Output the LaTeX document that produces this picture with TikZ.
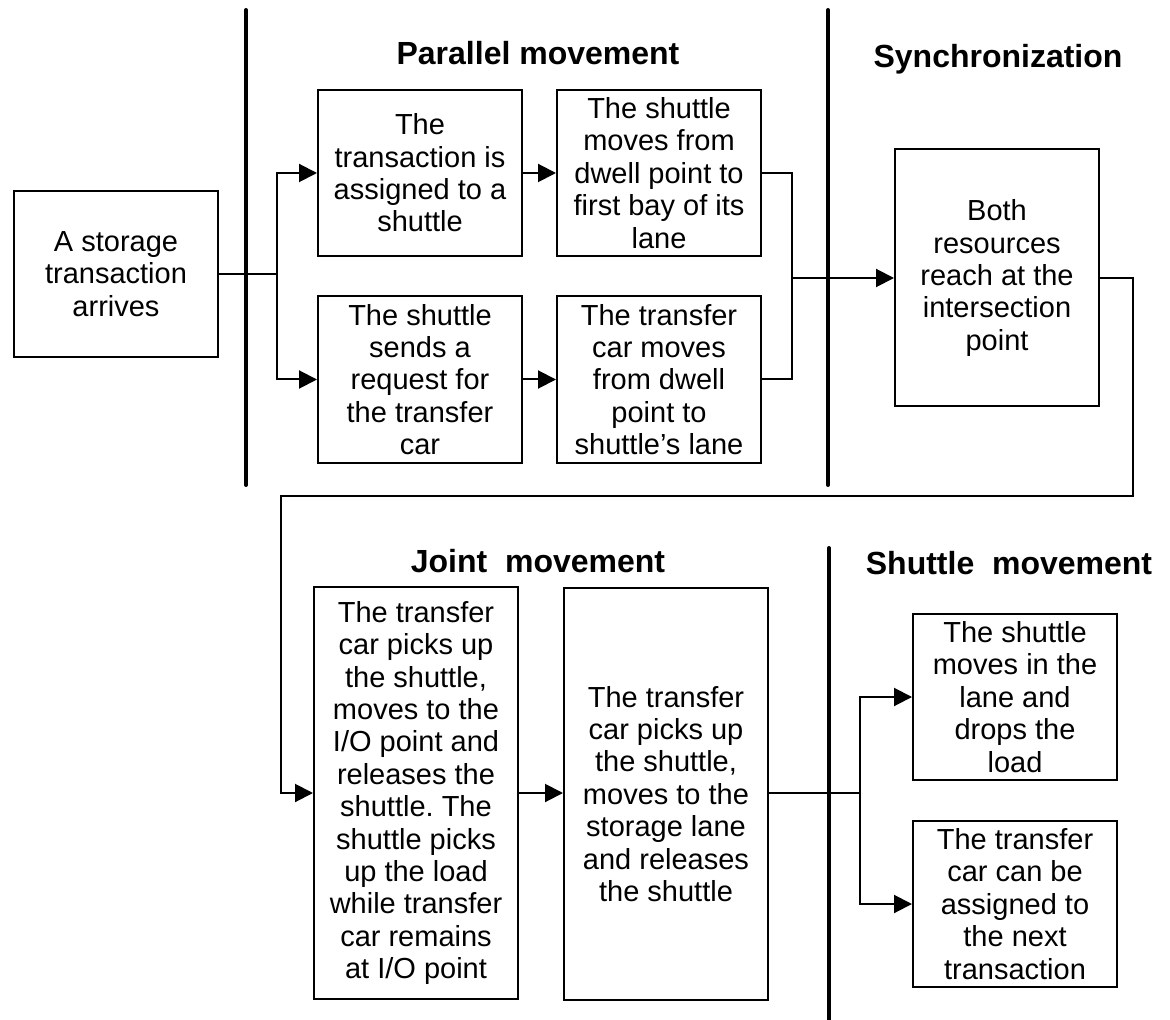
\documentclass[tikz,border=0pt]{standalone}
\usepackage{fontspec}
\setmainfont{Liberation Sans}
\usetikzlibrary{arrows.meta}
\frenchspacing
\begin{document}
\begin{tikzpicture}[x=0.5pt,y=-0.5pt,
  box/.style={draw, line width=1pt, rectangle, inner sep=0pt,
    minimum width=102pt, align=center,
    font=\fontsize{14.5}{16.2}\selectfont},
  title/.style={font=\fontsize{16}{18}\selectfont\bfseries},
  wire/.style={line width=1pt},
  arrow/.style={wire, -{Triangle[length=9pt,width=9pt]}},
  divider/.style={line width=2pt, line cap=round}]
\useasboundingbox (0,0) rectangle (1170,1020);

% phase dividers
\draw[divider] (246,10) -- (246,485);
\draw[divider] (828,10) -- (828,485);
\draw[divider] (829,548) -- (829,1025);

% phase titles
\node[title] (tpar) at (538,53) {Parallel movement};
\node[title] (tsync) at (998,59) {Synchronization};
\node[title] (tjoint) at (538,561) {Joint\ \ movement};
\node[title] (tshut) at (1009,563) {Shuttle\ \ movement};

% process steps
\node[box, minimum height=83pt] (A) at (116,274) {A storage\\transaction\\arrives};
\node[box, minimum height=83pt] (B1) at (420,173) {The\\transaction is\\assigned to a\\shuttle};
\node[box, minimum height=83.5pt] (B2) at (420,379.5) {The shuttle\\sends a\\request for\\the transfer\\car};
\node[box, minimum height=83pt] (C1) at (659,173) {The shuttle\\moves from\\dwell point to\\first bay of its\\lane};
\node[box, minimum height=83.5pt] (C2) at (659,379.5) {The transfer\\car moves\\from dwell\\point to\\shuttle’s lane};
\node[box, minimum height=128.5pt] (D) at (997,278) {Both\\resources\\reach at the\\intersection\\point};
\node[box, minimum height=206pt] (E) at (416,793) {The transfer\\car picks up\\the shuttle,\\moves to the\\I/O point and\\releases the\\shuttle. The\\shuttle picks\\up the load\\while transfer\\car remains\\at I/O point};
\node[box, minimum height=206pt] (F) at (666,794) {The transfer\\car picks up\\the shuttle,\\moves to the\\storage lane\\and releases\\the shuttle};
\node[box, minimum height=83pt] (G1) at (1015,697) {The shuttle\\moves in the\\lane and\\drops the\\load};
\node[box, minimum height=83pt] (G2) at (1015,904) {The transfer\\car can be\\assigned to\\the next\\transaction};

% junction points
\coordinate (jL) at (277,274);
\coordinate (jM) at (792,278);
\coordinate (c1) at (1133,496);
\coordinate (c2) at (281,496);
\coordinate (jR) at (860,793);

% connectors
\draw[wire] (A.east) -- (jL);
\draw[arrow] (jL) |- (B1.west);
\draw[arrow] (jL) |- (B2.west);
\draw[arrow] (B1) -- (C1);
\draw[arrow] (B2) -- (C2);
\draw[wire] (C1.east) -| (jM);
\draw[wire] (C2.east) -| (jM);
\draw[arrow] (jM) -- (D.west);
\draw[arrow] (D.east) -| (c1) -- (c2) |- (E.west);
\draw[arrow] (E.east) -- (E.east -| F.west);
\draw[wire] (F.east |- jR) -- (jR);
\draw[arrow] (jR) |- (G1.west);
\draw[arrow] (jR) |- (G2.west);
\end{tikzpicture}
\end{document}
